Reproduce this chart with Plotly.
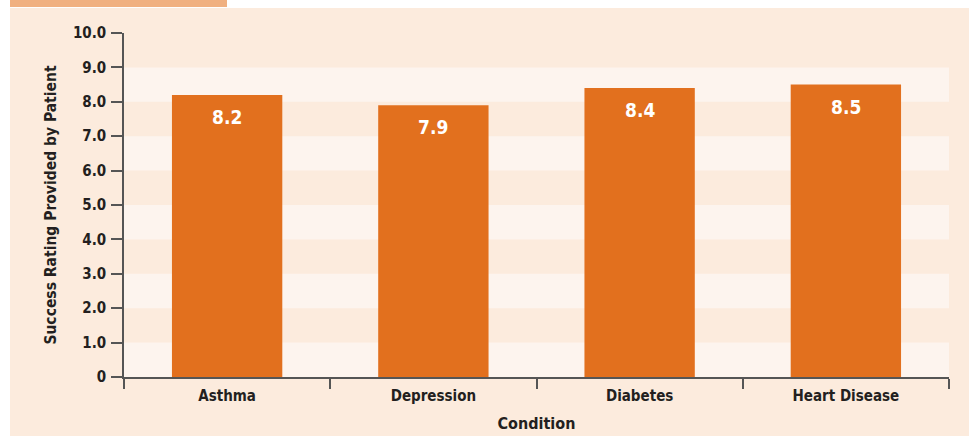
import plotly.graph_objects as go

# Patient-reported success rating by condition
conditions = ["Asthma", "Depression", "Diabetes", "Heart Disease"]
ratings = [8.2, 7.9, 8.4, 8.5]
y_ticks = [0, 1, 2, 3, 4, 5, 6, 7, 8, 9, 10]
y_tick_labels = ["0", "1.0", "2.0", "3.0", "4.0", "5.0", "6.0", "7.0", "8.0", "9.0", "10.0"]

FONT = "DejaVu Sans Condensed, Liberation Sans Narrow, Arial Narrow, sans-serif"
PEACH = "#FCEBDD"
LIGHT = "#FDF4EE"
BAR = "#E2701E"
TAB = "#F0B080"
INK = "#231F20"
AXIS = "#555555"

W, H = 969, 436
L, R, T, B = 124, 20, 33, 59
pw, ph = W - L - R, H - T - B


def px_x(px):
    return (px - L) / pw


def px_y(py):
    return (H - B - py) / ph


fig = go.Figure(
    go.Bar(
        x=conditions,
        y=ratings,
        marker=dict(color=BAR, line=dict(width=0)),
        width=0.535,
        hoverinfo="x+y",
    )
)

shapes = [
    # panel background and header tab
    dict(type="rect", xref="paper", yref="paper", x0=px_x(10), x1=px_x(W + 5),
         y0=px_y(H + 5), y1=px_y(8), fillcolor=PEACH, line=dict(width=0), layer="below"),
    dict(type="rect", xref="paper", yref="paper", x0=px_x(10), x1=px_x(227),
         y0=px_y(7), y1=px_y(-5), fillcolor=TAB, line=dict(width=0), layer="below"),
]
# alternating horizontal bands
for lo in range(0, 10, 2):
    shapes.append(dict(type="rect", xref="paper", yref="y", x0=0, x1=1,
                       y0=lo, y1=lo + 1, fillcolor=LIGHT, line=dict(width=0), layer="below"))

annotations = [
    dict(x=c, y=v, xref="x", yref="y", text=f"{v:.1f}", showarrow=False,
         yanchor="top", yshift=-9,
         font=dict(family=FONT, size=19, color="white", weight="bold"))
    for c, v in zip(conditions, ratings)
]

fig.update_layout(
    width=W, height=H,
    margin=dict(l=L, r=R, t=T, b=B, pad=0),
    paper_bgcolor="white",
    plot_bgcolor=PEACH,
    showlegend=False,
    shapes=shapes,
    annotations=annotations,
    font=dict(family=FONT, color=INK, size=15, weight="bold"),
    xaxis=dict(
        type="category",
        range=[-0.5, 3.5],
        automargin=False,
        tickson="boundaries",
        ticks="outside",
        ticklen=10,
        tickcolor=AXIS,
        tickwidth=1.5,
        showline=True,
        linecolor=AXIS,
        linewidth=1.5,
        showgrid=False,
        ticklabelstandoff=4,
        tickfont=dict(family=FONT, size=15, color=INK, weight="bold"),
        title=dict(text="Condition", standoff=14,
                   font=dict(family=FONT, size=16, color=INK, weight="bold")),
    ),
    yaxis=dict(
        range=[0, 10],
        automargin=False,
        tickvals=y_ticks,
        ticktext=y_tick_labels,
        ticks="outside",
        ticklen=11,
        tickcolor=AXIS,
        tickwidth=1.5,
        showline=True,
        linecolor=AXIS,
        linewidth=1.5,
        showgrid=False,
        zeroline=False,
        ticklabelstandoff=2,
        tickfont=dict(family=FONT, size=15, color=INK, weight="bold"),
        title=dict(text="Success Rating Provided by Patient", standoff=13,
                   font=dict(family=FONT, size=15.5, color=INK, weight="bold")),
    ),
)

fig.write_html("out.html")
